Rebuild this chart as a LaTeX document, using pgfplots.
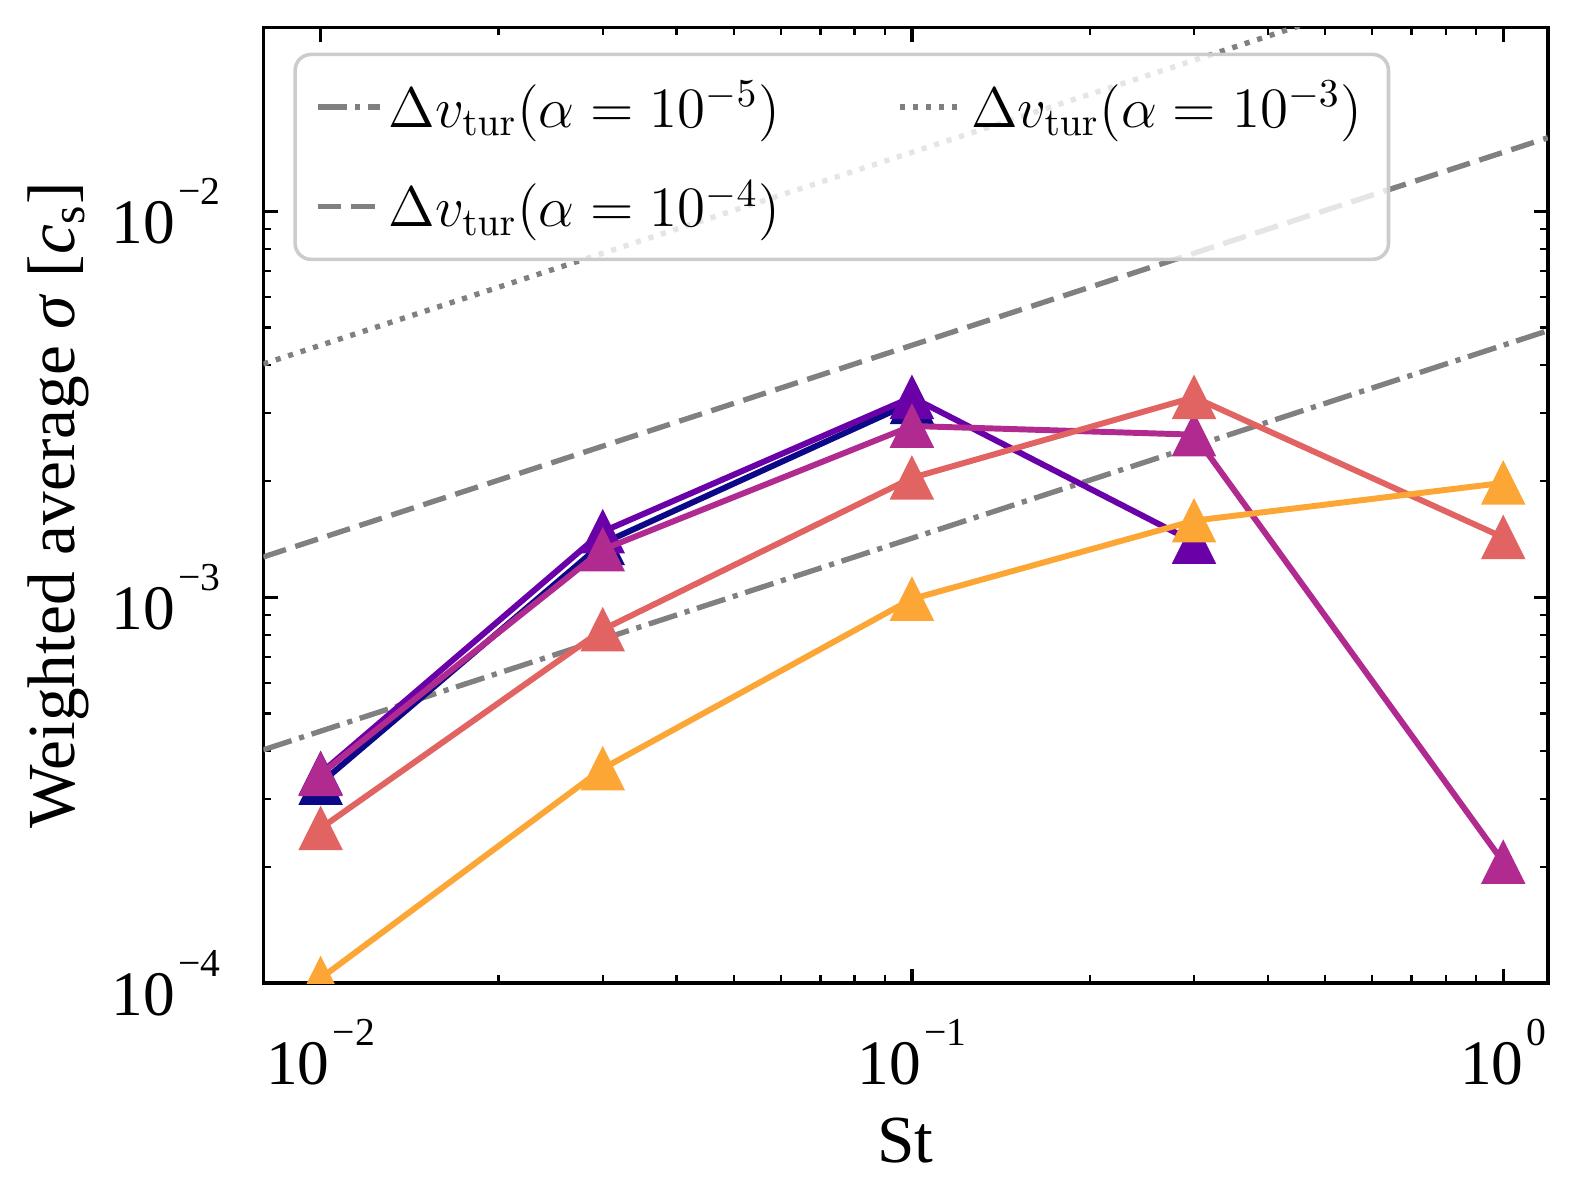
\documentclass[border=0pt]{standalone}
\usepackage[no-math]{fontspec}
\setmainfont{Liberation Serif}
\usepackage{pgfplots}
\pgfplotsset{compat=1.18}

\definecolor{pA}{HTML}{0D0887}
\definecolor{pB}{HTML}{6A00A8}
\definecolor{pC}{HTML}{B12A90}
\definecolor{pD}{HTML}{E16462}
\definecolor{pE}{HTML}{FCA636}
\definecolor{lgray}{HTML}{808080}

\pgfdeclareplotmark{mtri}{%
  \pgfpathmoveto{\pgfqpoint{0pt}{\pgfplotmarksize}}%
  \pgfpathlineto{\pgfqpoint{-\pgfplotmarksize}{-\pgfplotmarksize}}%
  \pgfpathlineto{\pgfqpoint{\pgfplotmarksize}{-\pgfplotmarksize}}%
  \pgfpathclose\pgfusepathqfillstroke}

\newcommand\ept[1]{10\hspace{0.8pt}\raisebox{0.62em}{\fontsize{10}{11}\selectfont #1}}

\begin{document}
\begin{tikzpicture}
\begin{axis}[
  at={(0pt,0pt)}, anchor=south west,
  scale only axis,
  width=324.4pt, height=241.4pt,
  xmode=log, ymode=log,
  xmin=0.008, xmax=1.19,
  ymin=1e-4, ymax=0.03,
  axis line style={line width=0.9pt},
  tick align=inside,
  major tick length=3.6pt,
  minor tick length=2pt,
  every tick/.style={black, line width=0.8pt},
  minor tick style={line width=0.6pt},
  xtick={0.01,0.1,1},
  xticklabels={\ept{−2},\ept{−1},\ept{0}},
  ytick={1e-4,1e-3,1e-2},
  yticklabels={\ept{−4},\ept{−3},\ept{−2}},
  tick label style={font=\fontsize{16}{19}\selectfont},
  xticklabel style={anchor=north, inner sep=0pt, yshift=-8.9pt},
  yticklabel style={anchor=east, inner sep=0pt, xshift=-10.7pt},
  every axis x label/.style={at={(axis description cs:0.5,-0.1649)}, anchor=center},
  every axis y label/.style={at={(axis description cs:-0.1597,0.5)}, rotate=90, anchor=center},
  label style={font=\fontsize{17}{20}\selectfont},
  xlabel={St},
  ylabel={Weighted average \textit{σ} [\textit{c}\textsubscript{s}]},
  clip marker paths=true,
  legend columns=2,
  legend cell align=left,
  legend image code/.code={\draw[#1] (0pt,0pt) -- (15.7pt,0pt);},
  legend style={
    at={(axis description cs:0.0234,0.9735)}, anchor=north west,
    draw=black!20, line width=0.9pt, rounded corners=4pt,
    fill=white, fill opacity=0.8, text opacity=1, draw opacity=1,
    font=\fontsize{14}{17}\selectfont,
    inner xsep=5pt, inner ysep=4.2pt, row sep=7pt,
    nodes={inner xsep=1.6pt, inner ysep=2.5pt},
    /tikz/every even column/.append style={column sep=28pt},
  },
]
% turbulent velocity lines
\addplot[lgray, line width=1.35pt, dash pattern=on 7.5pt off 2pt on 1.3pt off 2pt]
  coordinates {(0.008,4.025e-4) (1.19,4.909e-3)};
\addlegendentry{$\Delta v_{\mathrm{tur}}(\alpha=10^{-5})$}
\addplot[lgray, line width=1.35pt, dash pattern=on 1.3pt off 2pt]
  coordinates {(0.008,4.025e-3) (1.19,4.909e-2)};
\addlegendentry{$\Delta v_{\mathrm{tur}}(\alpha=10^{-3})$}
\addplot[lgray, line width=1.35pt, dash pattern=on 6pt off 2.5pt]
  coordinates {(0.008,1.2728e-3) (1.19,1.5524e-2)};
\addlegendentry{$\Delta v_{\mathrm{tur}}(\alpha=10^{-4})$}

% data series
\addplot[pA, line width=1.5pt, mark=mtri, mark size=5.3pt,
  mark options={solid, fill=pA, draw=pA, line width=0.4pt}, forget plot]
  coordinates {(0.01,3.3e-4) (0.03,1.38e-3) (0.1,3.2e-3)};
\addplot[pB, line width=1.5pt, mark=mtri, mark size=5.3pt,
  mark options={solid, fill=pB, draw=pB, line width=0.4pt}, forget plot]
  coordinates {(0.01,3.5e-4) (0.03,1.48e-3) (0.1,3.3e-3) (0.3,1.39e-3)};
\addplot[pC, line width=1.5pt, mark=mtri, mark size=5.3pt,
  mark options={solid, fill=pC, draw=pC, line width=0.4pt}, forget plot]
  coordinates {(0.01,3.48e-4) (0.03,1.33e-3) (0.1,2.78e-3) (0.3,2.64e-3) (1,2.06e-4)};
\addplot[pD, line width=1.5pt, mark=mtri, mark size=5.3pt,
  mark options={solid, fill=pD, draw=pD, line width=0.4pt}, forget plot]
  coordinates {(0.01,2.52e-4) (0.03,8.25e-4) (0.1,2.04e-3) (0.3,3.30e-3) (1,1.43e-3)};
\addplot[pE, line width=1.5pt, mark=mtri, mark size=5.3pt,
  mark options={solid, fill=pE, draw=pE, line width=0.4pt}, forget plot]
  coordinates {(0.01,1.03e-4) (0.03,3.6e-4) (0.1,9.9e-4) (0.3,1.58e-3) (1,1.98e-3)};
\end{axis}
\pgfresetboundingbox
\useasboundingbox (-66.5pt,-53.6pt) rectangle (331.5pt,248.3pt);
\end{tikzpicture}
\end{document}
